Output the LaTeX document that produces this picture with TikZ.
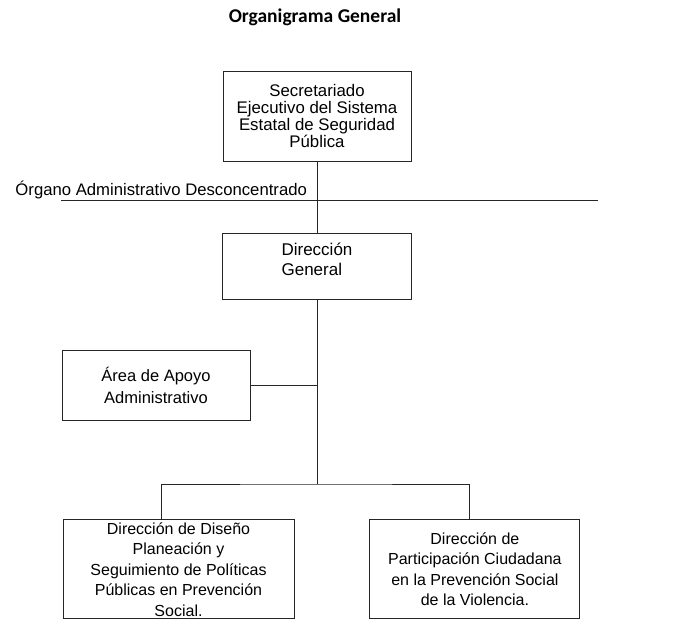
\documentclass[tikz,border=0pt]{standalone}
\usepackage{fontspec}
\setmainfont{Liberation Sans}
\newfontfamily\titlefont{Carlito}
\usetikzlibrary{positioning}

\begin{document}
\begin{tikzpicture}[x=1pt,y=-1pt,line width=0.9pt,draw=black!85]
 \useasboundingbox (0,0) rectangle (675,620);
 \node [font=\titlefont\bfseries\fontsize{19.5}{22}\selectfont] (title) at (315,17) {Organigrama General};
 \begin{scope}[every node/.style={draw,rectangle,align=center,inner sep=2pt,font=\fontsize{16}{20.5}\selectfont}]
 \node [minimum width=188pt,minimum height=90pt,font=\fontsize{16.8}{17}\selectfont] (sec) at (317,116) {Secretariado\\Ejecutivo del Sistema\\Estatal de Seguridad\\Pública};
 \node [below=72pt of sec,minimum width=189pt,minimum height=66pt,align=left,text depth=15pt,font=\fontsize{17}{20}\selectfont] (dg) {Dirección\\General};
 \node [below=50pt of dg,xshift=-161pt,minimum width=188pt,minimum height=70pt,font=\fontsize{16.5}{22}\selectfont] (apoyo) {Área de Apoyo\\Administrativo};
 \node [below=98pt of apoyo,xshift=22.5pt,minimum width=231pt,minimum height=99pt,inner ysep=0.5pt] (diseno) {Dirección de Diseño\\Planeación y\\Seguimiento de Políticas\\Públicas en Prevención\\Social.};
 \node [right=75pt of diseno,minimum width=210pt,minimum height=99pt] (partic) {Dirección de\\Participación Ciudadana\\en la Prevención Social\\de la Violencia.};
 \end{scope}
 \node [anchor=base west,inner sep=0pt,font=\fontsize{16.7}{19}\selectfont] (organo) at (15,196) {Órgano Administrativo Desconcentrado};
 \coordinate (hl) at (61,200);
 \coordinate (hr) at (598,200);
 \coordinate (lvl) at (0,484);
 \coordinate (br) at (dg.south |- lvl);
 \draw (hl) -- (hr);
 \draw (sec) -- (dg);
 \draw (dg) -- (br);
 \draw (apoyo.east) -- (apoyo.east -| dg.south);
 \draw ([xshift=-17pt]diseno.north) |- (br) -| ([xshift=-5pt]partic.north);
\end{tikzpicture}
\end{document}
